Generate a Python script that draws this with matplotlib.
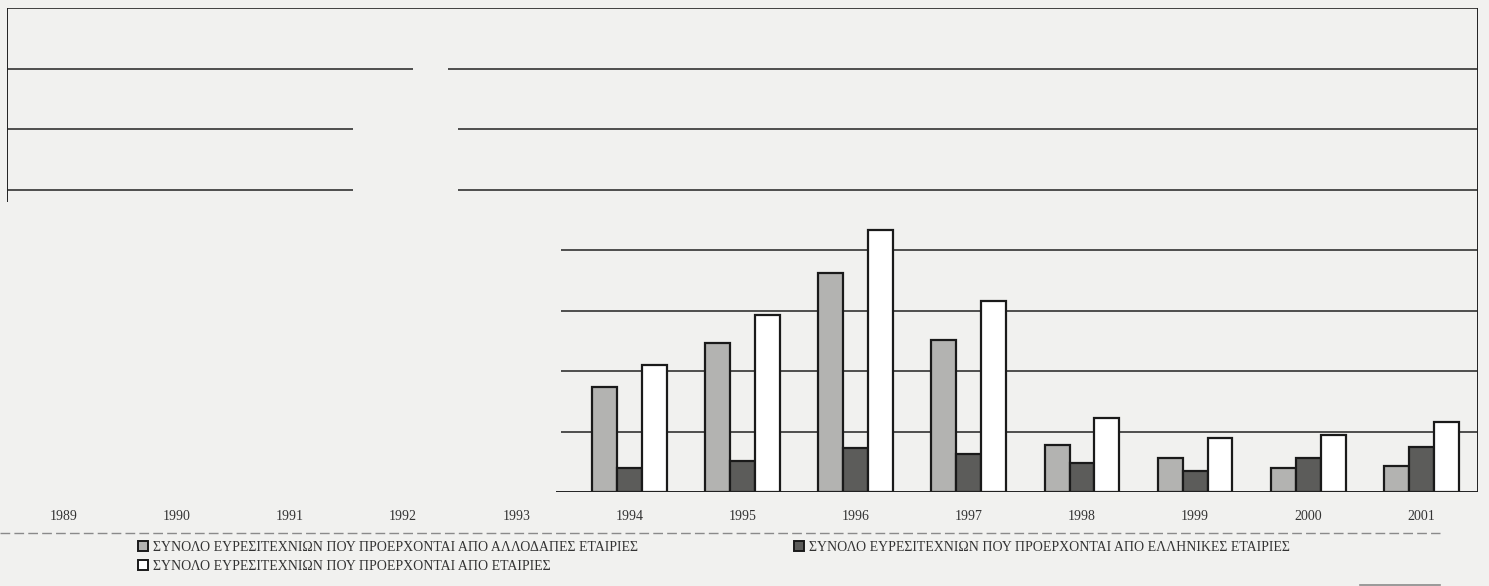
import numpy as np
import matplotlib.pyplot as plt
from matplotlib.patches import Patch

# Δεδομένα (σε μονάδες πλέγματος, όπως διαβάζονται από το διάγραμμα)
years = ['1989', '1990', '1991', '1992', '1993', '1994', '1995',
         '1996', '1997', '1998', '1999', '2000', '2001']
foreign = [0, 0, 0, 0, 0, 1.74, 2.46, 3.62, 2.52, 0.77, 0.57, 0.39, 0.43]
greek = [0, 0, 0, 0, 0, 0.39, 0.51, 0.72, 0.62, 0.48, 0.34, 0.57, 0.75]
total = [0, 0, 0, 0, 0, 2.10, 2.93, 4.33, 3.15, 1.23, 0.90, 0.95, 1.15]

labels = ['ΣΥΝΟΛΟ ΕΥΡΕΣΙΤΕΧΝΙΩΝ ΠΟΥ ΠΡΟΕΡΧΟΝΤΑΙ ΑΠΟ ΑΛΛΟΔΑΠΕΣ ΕΤΑΙΡΙΕΣ',
          'ΣΥΝΟΛΟ ΕΥΡΕΣΙΤΕΧΝΙΩΝ ΠΟΥ ΠΡΟΕΡΧΟΝΤΑΙ ΑΠΟ ΕΛΛΗΝΙΚΕΣ ΕΤΑΙΡΙΕΣ',
          'ΣΥΝΟΛΟ ΕΥΡΕΣΙΤΕΧΝΙΩΝ ΠΟΥ ΠΡΟΕΡΧΟΝΤΑΙ ΑΠΟ ΕΤΑΙΡΙΕΣ']
colors = ['#b3b3b1', '#5c5c5a', '#ffffff']

plt.rcParams['font.family'] = ['Liberation Serif', 'DejaVu Serif']

bg = '#f1f1ef'
fig = plt.figure(figsize=(14.89, 5.86), dpi=100, facecolor=bg)
ax = fig.add_axes([7 / 1489, 94 / 586, 1471 / 1489, 484 / 586])
ax.set_facecolor(bg)

x = np.arange(len(years))
w = 0.22
series = [foreign, greek, total]
for k, vals in enumerate(series):
    vals = np.array(vals)
    keep = vals > 0  # μηδενικές τιμές: καμία ράβδος
    ax.bar(x[keep] + (k - 1) * w, vals[keep], w, color=colors[k],
           edgecolor='#1a1a1a', linewidth=1.6, zorder=3)

ax.set_xlim(-0.5, len(years) - 0.5)
ax.set_ylim(0, 8)

# γραμμές πλέγματος (με τα κενά του σαρωμένου πρωτοτύπου)
xl, xr = -0.5, len(years) - 0.5
ax.hlines(8, xl, xr, color='#222222', lw=1.2, zorder=1)
ax.hlines(7, xl, 3.09, color='#222222', lw=1.1, zorder=1)
ax.hlines(7, 3.40, xr, color='#222222', lw=1.1, zorder=1)
for yv in [6, 5]:
    ax.hlines(yv, xl, 2.56, color='#222222', lw=1.1, zorder=1)
    ax.hlines(yv, 3.49, xr, color='#222222', lw=1.1, zorder=1)
for yv in [4, 3, 2, 1]:
    ax.hlines(yv, 4.4, xr, color='#222222', lw=1.1, zorder=1)
ax.hlines(0, 4.35, xr, color='#222222', lw=1.4, zorder=4)
ax.vlines(xl, 4.8, 8, color='#222222', lw=1.4, zorder=1)
ax.vlines(xr, 0, 8, color='#222222', lw=1.4, zorder=1)

for s in ax.spines.values():
    s.set_visible(False)
ax.set_yticks([])
ax.set_xticks(x)
ax.set_xticklabels(years, fontsize=10, color='#333333')
ax.tick_params(axis='x', length=0, pad=13)

# διαχωριστική γραμμή κάτω από τα έτη
fig.add_artist(plt.Line2D([0, 1440 / 1489], [53 / 586, 53 / 586],
                          color='#8a8a8a', lw=1.0, ls=(0, (7, 3))))
fig.add_artist(plt.Line2D([1360 / 1489, 1440 / 1489], [1.5 / 586, 1.5 / 586],
                          color='#8a8a8a', lw=1.2))

handles = [Patch(facecolor=c, edgecolor='#1a1a1a', linewidth=1.4) for c in colors]
order = [0, 2, 1]
fig.legend([handles[i] for i in order], [labels[i] for i in order],
           ncol=2, loc='upper left', bbox_to_anchor=(138 / 1489, 45 / 586),
           frameon=False, fontsize=10, handlelength=0.75, handleheight=0.75,
           handletextpad=0.35, columnspacing=11.2, labelspacing=0.44,
           labelcolor='#333333', borderaxespad=0, borderpad=0)

fig.savefig('out.png', dpi=100, facecolor=bg)
